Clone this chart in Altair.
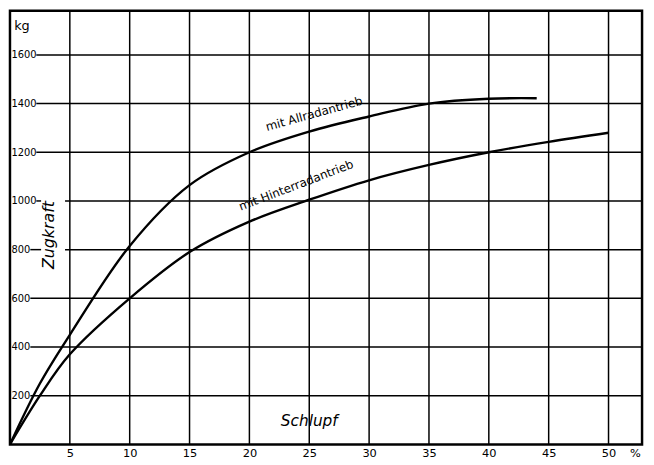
import altair as alt
import pandas as pd

# Data
slip = [0, 2.5, 5, 10, 15, 20, 25, 30, 35, 40, 44]
allrad = [0, 250, 450, 815, 1065, 1200, 1285, 1347, 1400, 1420, 1422]
slip_h = [0, 2.5, 5, 10, 15, 20, 25, 30, 35, 40, 45, 50]
hinterrad = [0, 200, 370, 600, 790, 915, 1005, 1085, 1148, 1200, 1243, 1280]

x_grid = [5, 10, 15, 20, 25, 30, 35, 40, 45, 50]
y_grid = [200, 400, 600, 800, 1000, 1200, 1400, 1600]
# horizontal grid segments (start, end in %), broken by the labels
seg_y = [200, 400, 600, 800, 800, 1000, 1000, 1200, 1400, 1600]
seg_x0 = [1.7, 1.7, 1.7, 1.7, 4.6, 2.2, 4.6, 2.2, 2.2, 2.2]
seg_x1 = [52.8, 52.8, 52.8, 2.6, 52.8, 2.6, 52.8, 52.8, 52.8, 52.8]
x_ticks = [5, 10, 15, 20, 25, 30, 35, 40, 45, 50, 52.2]

XMAX = 52.8
YMAX = 1781
W, H = 640, 439
FONT = "DejaVu Sans"

curves = pd.concat([
    pd.DataFrame({"s": slip, "k": allrad, "c": "Allrad"}),
    pd.DataFrame({"s": slip_h, "k": hinterrad, "c": "Hinterrad"}),
])

xs = alt.Scale(domain=[0, XMAX], nice=False, zero=False)
ys = alt.Scale(domain=[0, YMAX], nice=False, zero=False)

base_x_axis = alt.Axis(values=x_ticks, grid=False, ticks=False, domain=False,
                       labelFontSize=11.5, labelColor="black", labelFont=FONT,
                       labelPadding=3, labelOverlap=False, labelFlush=False,
                       labelBound=False, title=None,
                       labelExpr="datum.value > 51 ? '%' : datum.label")
base_y_axis = alt.Axis(values=y_grid, grid=False, ticks=False, domain=False,
                       format="d",
                       labelFontSize=10, labelColor="black", labelFont=FONT,
                       labelAlign="left", labelBaseline="middle",
                       labelPadding=-1, labelOverlap=False, title=None,
                       labelBound=False, labelFlush=False)

vgrid = alt.Chart(pd.DataFrame({"x": x_grid})).mark_rule(
    color="black", strokeWidth=1.5
).encode(
    x=alt.X("x:Q", scale=xs, axis=base_x_axis),
    y=alt.value(0), y2=alt.value(H),
)

hgrid = alt.Chart(pd.DataFrame({"y": seg_y, "x0": seg_x0, "x1": seg_x1})).mark_rule(
    color="black", strokeWidth=1.5
).encode(
    y=alt.Y("y:Q", scale=ys, axis=base_y_axis),
    x=alt.X("x0:Q", scale=xs), x2="x1:Q",
)

lines = alt.Chart(curves).mark_line(
    color="black", strokeWidth=2.4, interpolate="catmull-rom"
).encode(
    x=alt.X("s:Q", scale=xs),
    y=alt.Y("k:Q", scale=ys),
    detail="c:N",
)

lab = pd.DataFrame({
    "s": [25.4, 23.9],
    "k": [1358, 1064],
    "t": ["mit Allradantrieb", "mit Hinterradantrieb"],
    "a": [344.5, 339],
})
curve_labels = alt.Chart(lab).mark_text(
    font=FONT, fontSize=12, color="black", baseline="middle", align="center"
).encode(
    x=alt.X("s:Q", scale=xs), y=alt.Y("k:Q", scale=ys), text="t:N",
    angle=alt.Angle("a:Q", scale=None),
)

titles = pd.DataFrame({"s": [25.0], "k": [96], "t": ["Schlupf"]})
schlupf = alt.Chart(titles).mark_text(
    font=FONT, fontSize=15.5, fontStyle="italic", color="black", baseline="middle"
).encode(x=alt.X("s:Q", scale=xs), y=alt.Y("k:Q", scale=ys), text="t:N")

ztitle = pd.DataFrame({"s": [3.3], "k": [860], "t": ["Zugkraft"]})
zug = alt.Chart(ztitle).mark_text(
    font=FONT, fontSize=16, fontStyle="italic", color="black", baseline="middle",
    angle=270
).encode(x=alt.X("s:Q", scale=xs), y=alt.Y("k:Q", scale=ys), text="t:N")

kg = alt.Chart(pd.DataFrame({"s": [0.35], "k": [1720], "t": ["kg"]})).mark_text(
    font=FONT, fontSize=13, color="black", baseline="middle", align="left"
).encode(x=alt.X("s:Q", scale=xs), y=alt.Y("k:Q", scale=ys), text="t:N")

chart = alt.layer(vgrid, hgrid, lines, curve_labels, schlupf, zug, kg).properties(
    width=W, height=H,
    autosize=alt.AutoSizeParams(type="none"),
    padding={"left": 2, "top": 0, "right": 4, "bottom": 18},
    background="white",
).configure_view(stroke="black", strokeWidth=2.5)

chart.save("out.html", embed_options={"renderer": "svg", "actions": False})
